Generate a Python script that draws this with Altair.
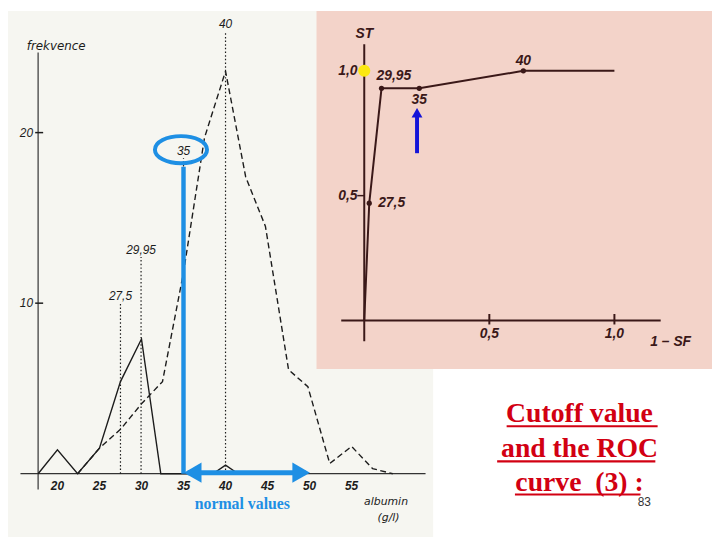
import altair as alt
import pandas as pd

# ---------------- data ----------------
albumin_ticks = [20, 25, 30, 35, 40, 45, 50, 55]
freq_ticks = [10, 20]

diseased_x = [17.7, 20, 22.4, 25, 27.5, 30, 32.3, 38.5, 40, 41.5]
diseased_y = [0, 1.4, 0, 1.5, 5.4, 7.9, 0, 0, 0.5, 0]

healthy_x = [22.4, 25, 27.5, 30, 32.5, 35, 37.5, 40, 42.4, 44.75, 47.5, 49.8, 52.4, 55, 57.5, 59.9]
healthy_y = [0, 1.5, 2.6, 4.1, 5.4, 11.8, 19.7, 23.6, 17.4, 14.5, 6.1, 5.1, 0.6, 1.6, 0.3, 0]

cutoffs = [27.5, 29.95, 35, 40]
cutoff_labels = ["27,5", "29,95", "35", "40"]
cutoff_tops = [10.0, 12.7, 18.5, 25.95]

roc_fpr = [0, 0.02, 0.069, 0.22, 0.636, 1.0]
roc_tpr = [0, 0.47, 0.93, 0.93, 1.0, 1.0]
roc_cut = ["", "27,5", "29,95", "35", "40", ""]
roc_ticks = [0.5, 1.0]
roc_tick_labels = ["0,5", "1,0"]

title_lines = ["Cutoff value", "and the ROC", "curve\u00a0 (3) :"]
slide_number = "83"

# ---------------- scales ----------------
LX = alt.Scale(domain=[15, 65], range=[7.5, 432.5], nice=False, zero=False)
LY = alt.Scale(domain=[0, 25], range=[468, 36.75], nice=False, zero=False)
RX = alt.Scale(domain=[0, 1], range=[360.3, 613.3], nice=False, zero=False)
RY = alt.Scale(domain=[0, 1], range=[313, 60.5], nice=False, zero=False)

INK = "#1c1c1c"
ROC_INK = "#3a1818"
BLUE = "#1e8fe4"
DBLUE = "#1414d8"
RED = "#d20012"


def qx(field, sc):
    return alt.X(field, type="quantitative", scale=sc, axis=None)


def qy(field, sc):
    return alt.Y(field, type="quantitative", scale=sc, axis=None)


def row(**kw):
    return pd.DataFrame({k: [v] for k, v in kw.items()})


one = pd.DataFrame({"a": [0]})
dis = pd.DataFrame({"x": diseased_x, "y": diseased_y})
hea = pd.DataFrame({"x": healthy_x, "y": healthy_y})
cut = pd.DataFrame({"x": cutoffs, "top": cutoff_tops, "bot": [0] * len(cutoffs), "lab": cutoff_labels})
xt = pd.DataFrame({"x": albumin_ticks, "y": [-0.75] * len(albumin_ticks),
                   "lab": [str(v) for v in albumin_ticks]})
yt = pd.DataFrame({"y": freq_ticks, "x0": [17.35] * 2, "x1": [18.3] * 2, "xl": [17.1] * 2,
                   "lab": [str(v) for v in freq_ticks]})
roc = pd.DataFrame({"x": roc_fpr, "y": roc_tpr, "lab": roc_cut})
rt = pd.DataFrame({"v": roc_ticks, "lab": roc_tick_labels, "y0": [-0.016] * 2, "y1": [0.026] * 2,
                   "xl": [-0.027] * 2, "yl": [-0.056] * 2})

layers = []

# backgrounds
layers.append(alt.Chart(one).mark_rect(color="#f6f6f1").encode(
    x=alt.value(0), x2=alt.value(430), y=alt.value(0), y2=alt.value(532)))
layers.append(alt.Chart(one).mark_rect(color="#f3d3c9").encode(
    x=alt.value(312), x2=alt.value(712), y=alt.value(0), y2=alt.value(362)))

# ---------------- left: frequency histogram ----------------
layers.append(alt.Chart(row(x=15.6, x2=63.8, y=0)).mark_rule(color="#333333", strokeWidth=1.3).encode(
    x=qx("x", LX), x2="x2:Q", y=qy("y", LY)))
layers.append(alt.Chart(row(x=17.7, y=-0.93, y2=24.7)).mark_rule(color="#333333", strokeWidth=1.2).encode(
    x=qx("x", LX), y=qy("y", LY), y2="y2:Q"))
layers.append(alt.Chart(yt).mark_rule(color=INK, strokeWidth=1.5).encode(
    x=qx("x0", LX), x2="x1:Q", y=qy("y", LY)))
layers.append(alt.Chart(yt).mark_text(align="right", baseline="middle", fontSize=12,
                                      fontStyle="italic", font="Liberation Sans", color=INK).encode(
    x=qx("xl", LX), y=qy("y", LY), text="lab:N"))
layers.append(alt.Chart(xt).mark_text(align="center", baseline="middle", fontSize=12,
                                      fontStyle="italic", fontWeight="bold",
                                      font="Liberation Sans", color=INK).encode(
    x=qx("x", LX), y=qy("y", LY), text="lab:N"))
layers.append(alt.Chart(row(x=16.35, y=25.1, t="frekvence")).mark_text(
    align="left", baseline="middle", fontSize=12, fontStyle="italic", font="DejaVu Sans", color=INK).encode(
    x=qx("x", LX), y=qy("y", LY), text="t:N"))
layers.append(alt.Chart(row(x=59.1, y=-1.68, t="albumin")).mark_text(
    align="center", baseline="middle", fontSize=11, fontStyle="italic", font="DejaVu Sans", color=INK).encode(
    x=qx("x", LX), y=qy("y", LY), text="t:N"))
layers.append(alt.Chart(row(x=59.4, y=-2.6, t="(g/l)")).mark_text(
    align="center", baseline="middle", fontSize=11, fontStyle="italic", font="DejaVu Sans", color=INK).encode(
    x=qx("x", LX), y=qy("y", LY), text="t:N"))

# dotted cutoffs
layers.append(alt.Chart(cut).mark_rule(color=INK, strokeWidth=1.2, strokeDash=[1.5, 2.2]).encode(
    x=qx("x", LX), y=qy("bot", LY), y2="top:Q"))
layers.append(alt.Chart(cut).mark_text(align="center", baseline="bottom", fontSize=12,
                                       fontStyle="italic", font="Liberation Sans", color=INK).encode(
    x=qx("x", LX), y=qy("top", LY), text="lab:N"))

# distributions
layers.append(alt.Chart(hea).mark_line(color=INK, strokeWidth=1.4, strokeDash=[6, 3.5]).encode(
    x=qx("x", LX), y=qy("y", LY), order="x:Q"))
layers.append(alt.Chart(dis).mark_line(color=INK, strokeWidth=1.4).encode(
    x=qx("x", LX), y=qy("y", LY), order="x:Q"))

# blue annotations
layers.append(alt.Chart(row(x=35, y=0, y2=18.0)).mark_rule(color=BLUE, strokeWidth=4.5).encode(
    x=qx("x", LX), y=qy("y", LY), y2="y2:Q"))
layers.append(alt.Chart(row(x=34.7, y=19.0)).mark_point(
    shape="M -1 0 A 1 0.52 0 1 1 1 0 A 1 0.52 0 1 1 -1 0 Z",
    filled=False, color=BLUE, strokeWidth=4, size=2777, opacity=1).encode(
    x=qx("x", LX), y=qy("y", LY)))
layers.append(alt.Chart(row(x=35.5, x2=49.5, y=0.06)).mark_rule(color=BLUE, strokeWidth=5).encode(
    x=qx("x", LX), x2="x2:Q", y=qy("y", LY)))
layers.append(alt.Chart(row(x=36.1, y=0.06)).mark_point(shape="triangle-left", filled=True, color=BLUE,
                                                        size=420, opacity=1).encode(
    x=qx("x", LX), y=qy("y", LY)))
layers.append(alt.Chart(row(x=49.0, y=0.06)).mark_point(shape="triangle-right", filled=True, color=BLUE,
                                                        size=420, opacity=1).encode(
    x=qx("x", LX), y=qy("y", LY)))
layers.append(alt.Chart(row(x=42.0, y=-1.8, t="normal values")).mark_text(
    align="center", baseline="middle", fontSize=16, fontWeight="bold",
    font="Liberation Serif", color=BLUE).encode(
    x=qx("x", LX), y=qy("y", LY), text="t:N"))

# ---------------- right: ROC curve ----------------
layers.append(alt.Chart(row(x=0, y=-0.083, y2=1.106)).mark_rule(color=ROC_INK, strokeWidth=2).encode(
    x=qx("x", RX), y=qy("y", RY), y2="y2:Q"))
layers.append(alt.Chart(row(x=-0.092, x2=1.185, y=0)).mark_rule(color=ROC_INK, strokeWidth=2).encode(
    x=qx("x", RX), x2="x2:Q", y=qy("y", RY)))
layers.append(alt.Chart(rt).mark_rule(color=ROC_INK, strokeWidth=2).encode(
    x=qx("v", RX), y=qy("y0", RY), y2="y1:Q"))
layers.append(alt.Chart(row(x=-0.028, x2=0, y=0.5)).mark_rule(color=ROC_INK, strokeWidth=1.5).encode(
    x=qx("x", RX), x2="x2:Q", y=qy("y", RY)))
ROCFONT = dict(fontSize=14, fontStyle="italic", fontWeight="bold",
               font="Liberation Sans", color=ROC_INK)
layers.append(alt.Chart(rt).mark_text(align="center", baseline="middle", **ROCFONT).encode(
    x=qx("v", RX), y=qy("yl", RY), text="lab:N"))
layers.append(alt.Chart(rt).mark_text(align="right", baseline="middle", **ROCFONT).encode(
    x=qx("xl", RX), y=qy("v", RY), text="lab:N"))
layers.append(alt.Chart(row(x=0, y=1.146, t="ST")).mark_text(
    align="center", baseline="middle", **ROCFONT).encode(
    x=qx("x", RX), y=qy("y", RY), text="t:N"))
layers.append(alt.Chart(row(x=1.225, y=-0.088, t="1 – SF")).mark_text(
    align="center", baseline="middle", **ROCFONT).encode(
    x=qx("x", RX), y=qy("y", RY), text="t:N"))

layers.append(alt.Chart(roc).mark_line(color=ROC_INK, strokeWidth=2).encode(
    x=qx("x", RX), y=qy("y", RY), order="x:Q"))
layers.append(alt.Chart(roc).transform_filter("datum.lab != ''").mark_point(
    filled=True, color=ROC_INK, size=28, opacity=1).encode(
    x=qx("x", RX), y=qy("y", RY)))

label_style = {
    "27,5": dict(align="left", dx=9, dy=0),
    "29,95": dict(align="left", dx=-5, dy=-12),
    "35": dict(align="center", dx=0, dy=12),
    "40": dict(align="center", dx=0, dy=-10),
}
for lab, st in label_style.items():
    layers.append(alt.Chart(roc).transform_filter(alt.datum.lab == lab).mark_text(
        baseline="middle", **st, **ROCFONT).encode(
        x=qx("x", RX), y=qy("y", RY), text="lab:N"))

# yellow ideal point
layers.append(alt.Chart(row(x=0, y=1.0)).mark_point(filled=True, color="#fbe812", size=150, opacity=1).encode(
    x=qx("x", RX), y=qy("y", RY)))
# blue arrow pointing at 35
layers.append(alt.Chart(row(x=0.211, y=0.67, y2=0.82)).mark_rule(color=DBLUE, strokeWidth=4).encode(
    x=qx("x", RX), y=qy("y", RY), y2="y2:Q"))
layers.append(alt.Chart(row(x=0.211, y=0.832)).mark_point(shape="triangle-up", filled=True, color=DBLUE,
                                                          size=120, opacity=1).encode(
    x=qx("x", RX), y=qy("y", RY)))

# ---------------- slide text ----------------
title_y = [416, 451.5, 485]
ul = [(504.3, 657), (494.7, 654.7), (512.7, 639.7)]
for line, ty, (u0, u1) in zip(title_lines, title_y, ul):
    layers.append(alt.Chart(one).mark_text(align="center", baseline="alphabetic", fontSize=28,
                                           fontWeight="bold", font="Liberation Serif", color=RED).encode(
        x=alt.value(578), y=alt.value(ty), text=alt.value(line)))
    layers.append(alt.Chart(one).mark_rule(color=RED, strokeWidth=2.2).encode(
        x=alt.value(u0), x2=alt.value(u1), y=alt.value(ty + 4)))
layers.append(alt.Chart(one).mark_text(align="center", baseline="middle", fontSize=12,
                                       font="Liberation Sans", color="#333333").encode(
    x=alt.value(643.5), y=alt.value(497), text=alt.value(slide_number)))

chart = alt.layer(*layers).resolve_scale(x="independent", y="independent").properties(
    width=712, height=532, padding=0, autosize=alt.AutoSizeParams(type="none"),
    background="#ffffff",
).configure_view(stroke=None)

chart.save("out.html", embed_options={"renderer": "svg", "actions": False})
